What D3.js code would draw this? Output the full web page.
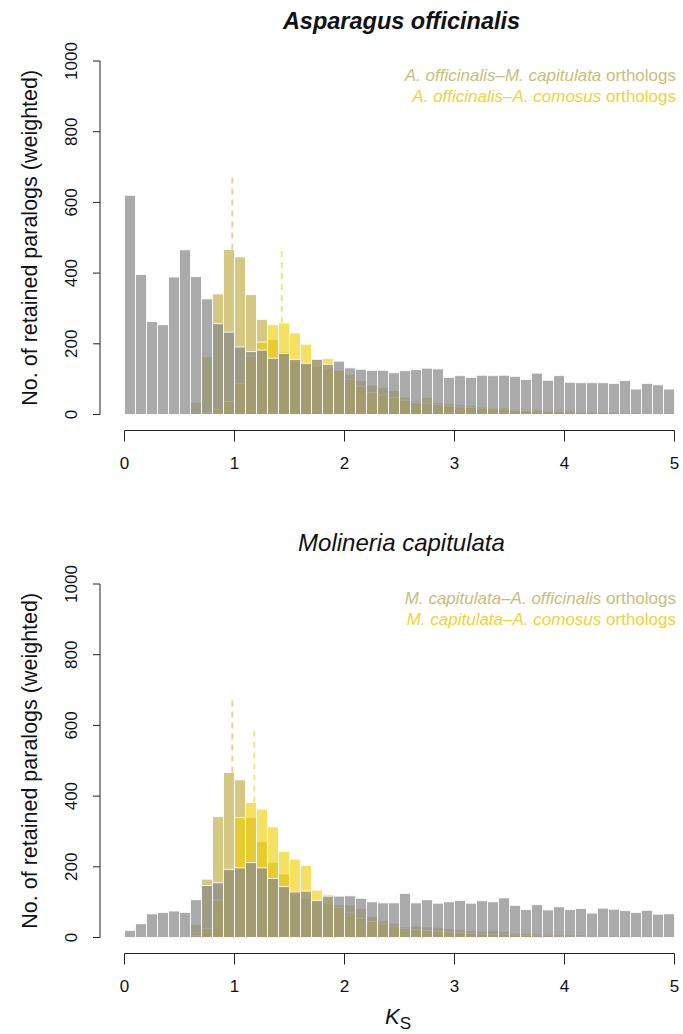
<!DOCTYPE html>
<html><head><meta charset="utf-8">
<script src="https://cdn.jsdelivr.net/npm/d3@7"></script>
<style>
body{margin:0;background:#fff}
svg{display:block;font-family:"Liberation Sans",Arial,Helvetica,sans-serif}
</style>
</head><body>
<svg id="chart" width="683" height="1034"></svg>
<script>
// ---- data ----
const binStarts = d3.range(50).map(i => i / 10);
const binWidth = 0.1;
const xTicks = [0, 1, 2, 3, 4, 5];
const yTicks = [0, 200, 400, 600, 800, 1000];

// Asparagus officinalis panel
const aoParalogs = [620,396,263,254,389,466,390,327,257,233,191,178,182,159,173,156,145,156,142,151,132,128,125,125,118,124,127,131,129,105,110,105,111,110,111,108,99,117,97,110,91,90,90,90,88,96,72,88,84,72];
const aoMcOrthologs = [0,0,0,0,0,0,35,163,341,467,446,339,269,212,178,150,142,135,130,125,113,96,83,76,68,50,38,48,33,30,28,25,22,20,20,14,13,14,10,9,12,8,8,7,6,6,5,5,4,4];
const aoAcOrthologs = [0,0,0,0,0,0,0,5,14,37,88,165,205,254,259,231,199,155,159,125,100,80,62,55,48,40,34,32,28,25,22,20,18,16,15,12,11,10,9,8,7,6,6,5,5,4,4,3,3,3];
const aoPeakKs = [0.98, 1.43];
const aoPeakTop = [671, 465];

// Molineria capitulata panel
const mcParalogs = [20,39,67,71,75,71,107,147,155,193,197,212,197,167,144,129,131,105,117,117,118,111,101,98,98,125,98,107,97,101,105,97,104,101,112,91,79,93,78,87,79,82,69,83,80,76,71,77,66,67];
const mcAoOrthologs = [0,0,0,0,0,0,37,165,342,467,446,339,271,213,180,120,110,100,95,92,92,82,59,47,40,30,33,30,29,25,23,20,18,20,17,12,11,10,9,8,8,7,6,6,5,5,4,4,3,3];
const mcAcOrthologs = [0,0,0,0,0,0,5,25,106,190,339,382,363,313,244,222,204,134,122,85,70,55,45,38,30,25,22,20,18,15,13,12,10,9,8,7,6,5,5,4,4,3,3,3,2,2,2,2,2,2];
const mcPeakKs = [0.98, 1.18];
const mcPeakTop = [672, 584];

const legendTop = [
  [{t:"A. officinalis\u2013M. capitulata", i:true}, {t:" orthologs", i:false}],
  [{t:"A. officinalis\u2013A. comosus", i:true}, {t:" orthologs", i:false}]
];
const legendBottom = [
  [{t:"M. capitulata\u2013A. officinalis", i:true}, {t:" orthologs", i:false}],
  [{t:"M. capitulata\u2013A. comosus", i:true}, {t:" orthologs", i:false}]
];

// ---- styles ----
const COL = {
  grey: {fill:"rgb(137,137,137)", op:0.72},
  olive: {fill:"rgb(183,163,47)", op:0.6},
  yellow: {fill:"rgb(240,205,0)", op:0.62}
};
const legendColors = ["rgb(200,190,122)", "rgb(242,210,52)"];
const dashColors = ["rgb(226,213,152)", "rgb(247,226,130)"];

const svg = d3.select("#chart");
const x = d3.scaleLinear().domain([0, 5]).range([124.5, 674.5]);

function panel(cfg) {
  const y = d3.scaleLinear().domain([0, 1000]).range([cfg.y0, cfg.y1]);
  const g = svg.append("g");

  const layers = [
    {data: cfg.olive, c: COL.olive},
    {data: cfg.yellow, c: COL.yellow},
    {data: cfg.grey, c: COL.grey}
  ];
  layers.forEach(L => {
    g.append("g").selectAll("rect").data(binStarts).join("rect")
      .attr("x", d => x(d))
      .attr("width", d => x(d + binWidth) - x(d))
      .attr("y", (d, i) => y(L.data[i]))
      .attr("height", (d, i) => y(0) - y(L.data[i]))
      .attr("fill", L.c.fill)
      .attr("fill-opacity", L.c.op)
      .attr("stroke", "#fff")
      .attr("stroke-width", 1)
      .attr("stroke-opacity", 0.85)
      .style("display", (d, i) => L.data[i] > 0 ? null : "none");
  });

  // dashed peak lines
  cfg.peakKs.forEach((k, j) => {
    const bi = Math.floor(k / binWidth);
    const top = Math.max(cfg.grey[bi], cfg.olive[bi], cfg.yellow[bi]);
    g.append("line")
      .attr("x1", x(k)).attr("x2", x(k))
      .attr("y1", y(top)).attr("y2", y(cfg.peakTop[j]))
      .attr("stroke", dashColors[j])
      .attr("stroke-width", 2)
      .attr("stroke-dasharray", "6,5");
  });

  // y axis
  const ya = g.append("g").attr("transform", "translate(100,0)");
  ya.append("line").attr("x1", 0).attr("x2", 0)
    .attr("y1", y(0)).attr("y2", y(1000)).attr("stroke", "#222");
  ya.selectAll(".yt").data(yTicks).join("line")
    .attr("x1", -7).attr("x2", 0)
    .attr("y1", d => y(d)).attr("y2", d => y(d)).attr("stroke", "#222");
  ya.selectAll(".yl").data(yTicks).join("text")
    .attr("transform", d => `translate(-23,${y(d)}) rotate(-90)`)
    .attr("text-anchor", "middle")
    .attr("font-size", 17).attr("fill", "#111")
    .text(d => d);

  g.append("text")
    .attr("transform", `translate(37,${(y(0) + y(1000)) / 2}) rotate(-90)`)
    .attr("text-anchor", "middle")
    .attr("font-size", 21.5).attr("fill", "#111")
    .text("No. of retained paralogs (weighted)");

  // x axis
  const xa = g.append("g").attr("transform", `translate(0,${cfg.y0 + 16})`);
  xa.append("line").attr("x1", x(0)).attr("x2", x(5))
    .attr("y1", 0).attr("y2", 0).attr("stroke", "#222");
  xa.selectAll(".xt").data(xTicks).join("line")
    .attr("x1", d => x(d)).attr("x2", d => x(d))
    .attr("y1", 0).attr("y2", 11).attr("stroke", "#222");
  xa.selectAll(".xl").data(xTicks).join("text")
    .attr("x", d => x(d)).attr("y", 38)
    .attr("text-anchor", "middle")
    .attr("font-size", 17).attr("fill", "#111")
    .text(d => d);

  // title
  g.append("text")
    .attr("x", (x(0) + x(5)) / 2 + 2).attr("y", cfg.titleY)
    .attr("text-anchor", "middle")
    .attr("font-size", cfg.titleBold ? 23.5 : 24).attr("font-style", "italic")
    .attr("font-weight", cfg.titleBold ? "bold" : "normal")
    .attr("fill", "#111")
    .text(cfg.title);

  // legend
  cfg.legend.forEach((parts, j) => {
    const t = g.append("text")
      .attr("x", 676).attr("y", cfg.legendY + j * 21)
      .attr("text-anchor", "end")
      .attr("font-size", 17).attr("fill", legendColors[j]);
    parts.forEach(p => t.append("tspan").attr("font-style", p.i ? "italic" : "normal").text(p.t));
  });
}

panel({y0: 414.5, y1: 61, grey: aoParalogs, olive: aoMcOrthologs, yellow: aoAcOrthologs,
  peakKs: aoPeakKs, peakTop: aoPeakTop, title: "Asparagus officinalis", titleBold: true, titleY: 29,
  legend: legendTop, legendY: 81});
panel({y0: 937.5, y1: 584, grey: mcParalogs, olive: mcAoOrthologs, yellow: mcAcOrthologs,
  peakKs: mcPeakKs, peakTop: mcPeakTop, title: "Molineria capitulata", titleBold: false, titleY: 551,
  legend: legendBottom, legendY: 604});

// x label
const xl = svg.append("text").attr("x", 385).attr("y", 1024)
  .attr("font-size", 22).attr("fill", "#111");
xl.append("tspan").attr("font-style", "italic").text("K");
xl.append("tspan").attr("font-size", 17).attr("dy", 5).text("S");
</script>
</body></html>
